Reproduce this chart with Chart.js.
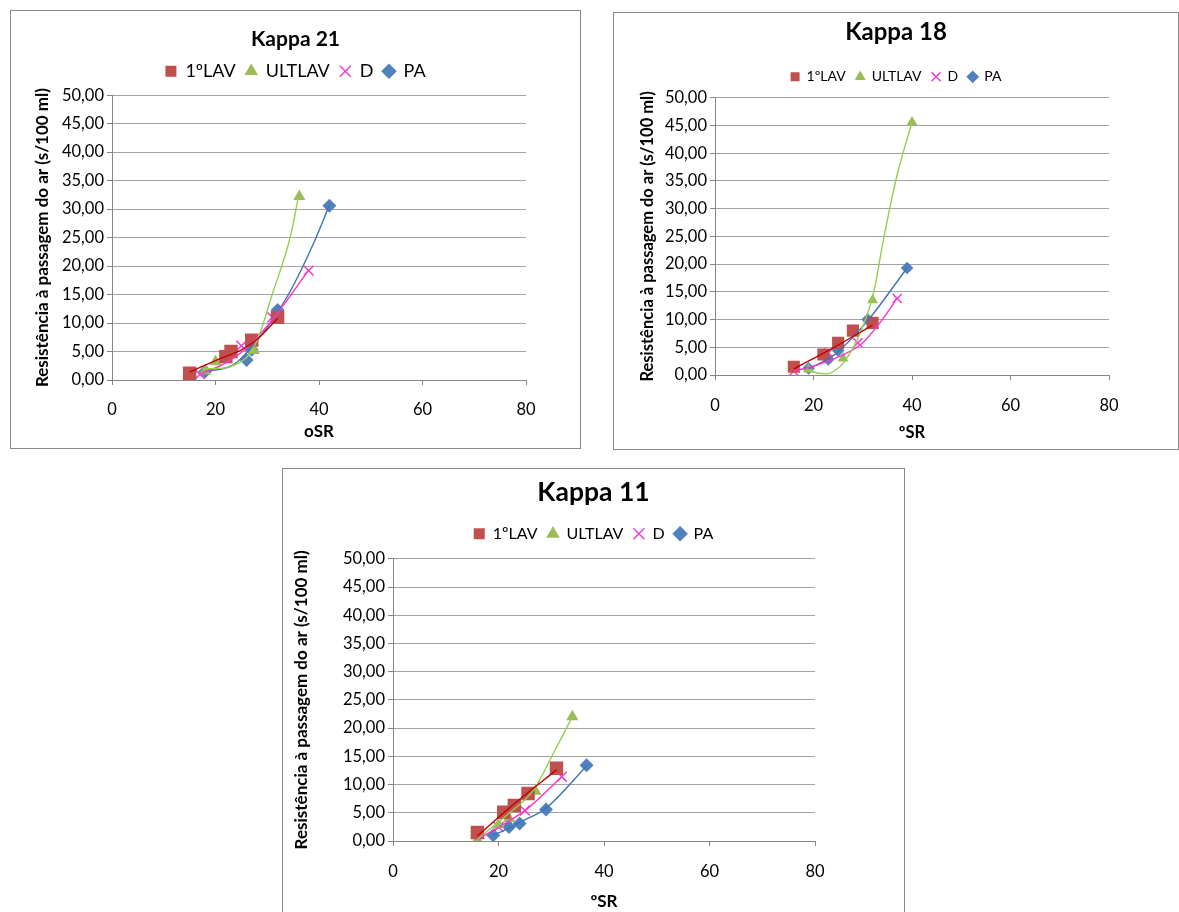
<!DOCTYPE html>
<html>
<head>
<meta charset="utf-8">
<script src="https://cdn.jsdelivr.net/npm/chart.js@4.4.1/dist/chart.umd.min.js"></script>
<style>
  body { margin: 0; background: #fff; width: 1179px; height: 912px; overflow: hidden; position: relative; }
  .box { position: absolute; border: 1px solid #898989; background: #fff; }
  .box canvas { display: block; }
</style>
</head>
<body>
<div class="box" style="left:10px;top:10px;width:569px;height:437px"><canvas id="k21" width="569" height="437"></canvas></div>
<div class="box" style="left:613px;top:12px;width:564px;height:436px"><canvas id="k18" width="564" height="436"></canvas></div>
<div class="box" style="left:282px;top:468px;width:621px;height:448px"><canvas id="k11" width="621" height="448"></canvas></div>
<script>
const FONT = 'Lato, "Open Sans", sans-serif';

const seriesNames = ['1ºLAV', 'ULTLAV', 'D', 'PA'];
const xTickLabels = ['0', '20', '40', '60', '80'];
const yTickLabels = ['0,00', '5,00', '10,00', '15,00', '20,00', '25,00', '30,00', '35,00', '40,00', '45,00', '50,00'];

// Kappa 21 - measured points [ºSR, s/100 ml]
const k21Lav1 = [[15, 1.2], [22, 4.1], [23, 5.0], [27, 7.0], [32, 11.0]];
const k21Ultlav = [[18, 1.6], [20, 3.2], [27.4, 5.2], [36.2, 32.2]];
const k21D = [[17, 1.0], [25, 6.0], [31, 11.0], [38, 19.2]];
const k21Pa = [[18, 1.5], [26, 3.5], [27, 5.3], [32, 12.3], [42, 30.6]];
// Kappa 21 - trend lines
const k21Lav1Trend = [[15, 1.4], [21, 3.8], [25, 5.3], [28, 7.1], [32, 10.8]];
const k21UltlavTrend = [[17.5, 2.0], [20, 2.0], [23, 2.4], [26.7, 4.7], [28.7, 8.5], [30.6, 14], [34.5, 25.3], [36, 32]];
const k21DTrend = [[17, 1.0], [22, 3.0], [26, 5.6], [31, 10.6], [38, 19.3]];
const k21PaTrend = [[18, 1.5], [23.5, 2.7], [28.7, 7.7], [33.9, 14.7], [39, 24.1], [42, 30.7]];

// Kappa 18
const k18Lav1 = [[16, 1.5], [22, 3.7], [25, 5.8], [28, 8.0], [32, 9.4]];
const k18Ultlav = [[19, 1.0], [26, 3.0], [32, 13.5], [40, 45.6]];
const k18D = [[16, 0.7], [23, 4.0], [29, 5.8], [37, 13.8]];
const k18Pa = [[19, 1.2], [23, 2.8], [25, 4.4], [31, 10.0], [39, 19.3]];
const k18Lav1Trend = [[16, 1.1], [24, 4.9], [32, 9.0]];
const k18UltlavTrend = [[19, 1.0], [20.5, 0.4], [22.7, 0.2], [24.5, 0.9], [26.1, 2.2], [29.5, 7.6], [32.2, 14.8], [34.2, 24.4], [36.9, 35.8], [40, 45.6]];
const k18DTrend = [[16, 0.7], [20, 1.6], [25.4, 3.4], [30, 5.8], [35.6, 12], [37, 14]];
const k18PaTrend = [[19, 1.1], [23, 2.9], [25, 4.2], [31, 9.8], [39, 19.3]];

// Kappa 11
const k11Lav1 = [[16, 1.5], [21, 5.1], [23, 6.3], [25.6, 8.4], [31, 12.9]];
const k11Ultlav = [[16, 0.2], [20, 2.9], [22, 4.0], [27, 8.8], [34, 22.0]];
const k11D = [[16, 0.3], [20, 2.5], [25, 5.4], [32, 11.4]];
const k11Pa = [[19, 1.0], [22, 2.5], [24, 3.1], [29, 5.6], [36.7, 13.4]];
const k11Lav1Trend = [[16, 0.9], [23.4, 6.9], [31, 12.6]];
const k11UltlavTrend = [[16, 0.3], [22, 4.9], [26.7, 9.1], [30, 14.8], [34, 22]];
const k11DTrend = [[16, 0.3], [20.5, 2.7], [25.3, 5.6], [32, 11.4]];
const k11PaTrend = [[19, 1.0], [22, 2.3], [24, 3.3], [29, 5.8], [36.7, 13.3]];

const markerLook = [
  { style: 'rect', fill: '#C0504D', line: '#C0504D', width: 0, size: 9.5 },
  { style: 'triangle', fill: '#9BBB59', line: '#9BBB59', width: 0, size: 7 },
  { style: 'crossRot', fill: '#F03CD8', line: '#F03CD8', width: 1.5, size: 7 },
  { style: 'rectRot', fill: '#4F81BD', line: '#4F81BD', width: 0, size: 7 },
];
const trendColors = ['#C00000', '#92D050', '#FF33CC', '#3F72B5'];

// pins the legend height so the plot area starts where it does in the picture
const legendHeightPlugin = {
  id: 'legendHeight',
  beforeLayout(chart, args, opts) {
    const legend = chart.legend;
    if (!legend || legend._pinned || !opts.height) {
      return;
    }
    const fit = legend.fit;
    legend.fit = function () {
      fit.call(this);
      this.height = opts.height;
    };
    legend._pinned = true;
  },
};

function toPoints(pairs) {
  return pairs.map(([x, y]) => ({ x, y }));
}

function buildChart(canvasId, title, xTitle, markers, trends, look) {
  const datasets = [];
  markers.forEach((pairs, i) => {
    const m = markerLook[i];
    datasets.push({
      label: seriesNames[i],
      data: toPoints(pairs),
      pointStyle: m.style,
      pointRadius: m.size * look.marker,
      pointHoverRadius: m.size * look.marker,
      backgroundColor: m.fill,
      borderColor: m.line,
      pointBorderWidth: m.width,
      showLine: false,
      order: 1,
    });
  });
  trends.forEach((pairs, i) => {
    datasets.push({
      label: seriesNames[i] + ' trend',
      data: toPoints(pairs),
      showLine: true,
      pointRadius: 0,
      pointHoverRadius: 0,
      borderColor: trendColors[i],
      borderWidth: 1.4,
      cubicInterpolationMode: 'monotone',
      order: 0,
    });
  });

  return new Chart(document.getElementById(canvasId), {
    type: 'scatter',
    data: { datasets },
    plugins: [legendHeightPlugin],
    options: {
      responsive: false,
      animation: false,
      layout: { padding: 0 },
      plugins: {
        tooltip: { enabled: false },
        title: {
          display: true,
          text: title,
          color: '#000',
          font: { family: FONT, size: look.titleSize, weight: 'bold' },
          padding: { top: look.titleTop, bottom: look.titleBottom },
        },
        legend: {
          position: 'top',
          labels: {
            filter: (item) => item.datasetIndex < 4,
            usePointStyle: true,
            boxWidth: look.legendBox,
            boxHeight: look.legendBox,
            padding: 10,
            color: '#000',
            font: { family: FONT, size: look.legendSize },
          },
        },
        legendHeight: { height: look.legendHeight },
      },
      scales: {
        x: {
          type: 'linear',
          min: 0,
          max: 80,
          afterFit: (scale) => { scale.height = look.bottomSpace; },
          ticks: {
            stepSize: 20,
            color: '#000',
            padding: look.xTickPad,
            font: { family: FONT, size: look.tickSize },
            callback: (value, index) => xTickLabels[index],
          },
          grid: { drawOnChartArea: false, tickLength: 5, color: '#868686', tickColor: '#868686' },
          border: { color: '#868686' },
          title: {
            display: true,
            text: xTitle,
            color: '#000',
            font: { family: FONT, size: look.axisTitleSize, weight: 'bold' },
            padding: { top: 0, bottom: look.xTitlePad },
          },
        },
        y: {
          min: 0,
          max: 50,
          afterFit: (scale) => { scale.width = look.leftSpace; },
          ticks: {
            stepSize: 5,
            color: '#000',
            padding: 3,
            font: { family: FONT, size: look.tickSize },
            callback: (value, index) => yTickLabels[index],
          },
          grid: { color: '#A3A3A3', tickLength: 5, tickColor: '#868686' },
          border: { color: '#868686' },
          title: {
            display: true,
            text: 'Resistência à passagem do ar (s/100 ml)',
            color: '#000',
            font: { family: FONT, size: look.axisTitleSize, weight: 'bold' },
            padding: { top: look.yTitlePad, bottom: 0 },
          },
        },
        // empty right-hand strip, keeps title and legend centred on the whole box
        spacer: {
          position: 'right',
          display: true,
          afterFit: (scale) => { scale.width = look.rightSpace; },
          grid: { display: false },
          ticks: { display: false },
          border: { display: false },
        },
      },
    },
  });
}

buildChart('k21', 'Kappa 21', 'oSR',
  [k21Lav1, k21Ultlav, k21D, k21Pa],
  [k21Lav1Trend, k21UltlavTrend, k21DTrend, k21PaTrend],
  {
    marker: 1, titleSize: 21, titleTop: 16, titleBottom: 0,
    legendSize: 18, legendBox: 11, legendHeight: 43,
    tickSize: 16.5, axisTitleSize: 17,
    leftSpace: 101, rightSpace: 54, bottomSpace: 68,
    xTickPad: 15, xTitlePad: 6, yTitlePad: 21,
  });

buildChart('k18', 'Kappa 18', 'ºSR',
  [k18Lav1, k18Ultlav, k18D, k18Pa],
  [k18Lav1Trend, k18UltlavTrend, k18DTrend, k18PaTrend],
  {
    marker: 0.9, titleSize: 24, titleTop: 5, titleBottom: 13,
    legendSize: 14, legendBox: 9, legendHeight: 38,
    tickSize: 16.5, axisTitleSize: 16.5,
    leftSpace: 101, rightSpace: 69, bottomSpace: 74,
    xTickPad: 16, xTitlePad: 6, yTitlePad: 24,
  });

buildChart('k11', 'Kappa 11', 'ºSR',
  [k11Lav1, k11Ultlav, k11D, k11Pa],
  [k11Lav1Trend, k11UltlavTrend, k11DTrend, k11PaTrend],
  {
    marker: 1, titleSize: 26.5, titleTop: 8, titleBottom: 7,
    legendSize: 16, legendBox: 11, legendHeight: 43,
    tickSize: 16.5, axisTitleSize: 17,
    leftSpace: 110, rightSpace: 89, bottomSpace: 76,
    xTickPad: 16, xTitlePad: 5, yTitlePad: 8,
  });
</script>
</body>
</html>
